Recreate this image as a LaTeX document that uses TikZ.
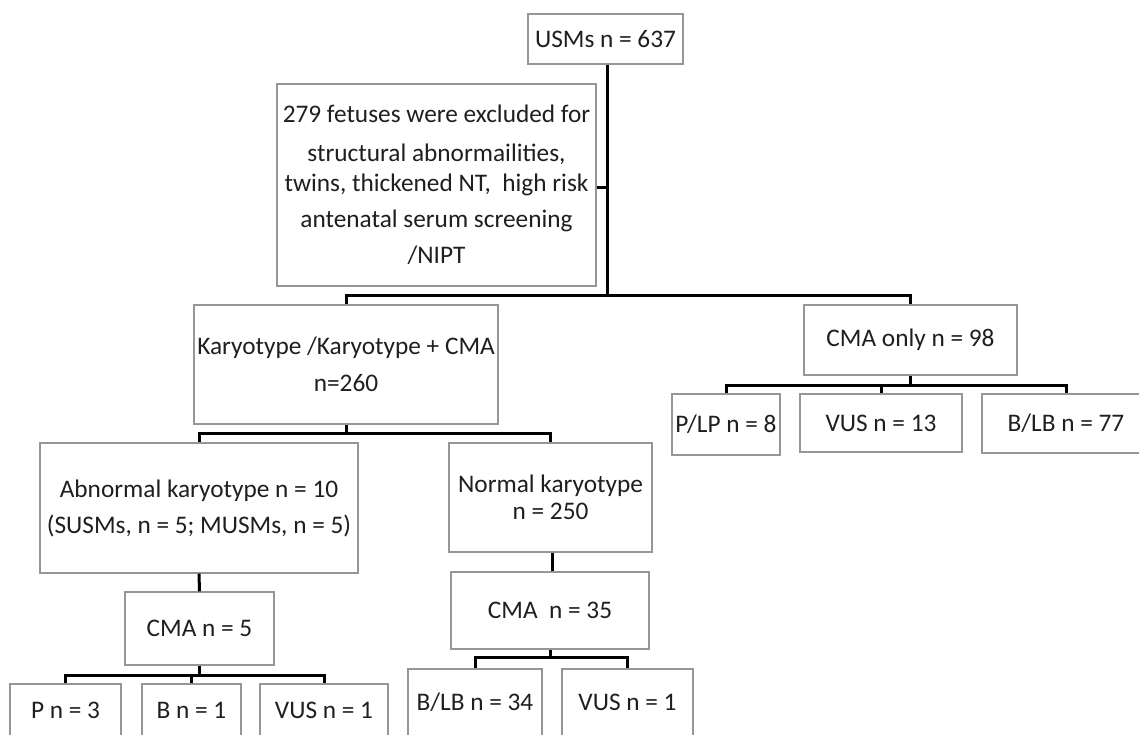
\documentclass[tikz,border=0pt]{standalone}
\usepackage{fontspec}
\setmainfont{Carlito}
\definecolor{boxgray}{RGB}{150,150,150}
\begin{document}
\begin{tikzpicture}[x=1pt,y=-1pt,
  box/.style={draw=boxgray, line width=1.1pt, rectangle, inner sep=0pt, align=center,
    font=\fontsize{25.3}{36}\selectfont, text=black!88},
  conn/.style={line width=3pt, black}]
\fill[white] (0,0) rectangle (1139,734);
\useasboundingbox (0,0) rectangle (1139,734);
\clip (0,0) rectangle (1139,734);

% nodes
\node[box, minimum width=155, minimum height=50] (usm) at (605.5,39) {USMs n = 637};
\node[box, minimum width=319, minimum height=202] (excl) at (436.5,185)
  {279 fetuses were excluded for\\[3pt] structural abnormailities,\\[-6pt] twins, thickened NT,~ high risk\\ antenatal serum screening\\ /NIPT};
\node[box, minimum width=304, minimum height=119] (kar) at (346,364.5)
  {Karyotype /Karyotype + CMA\\[1pt] n=260};
\node[box, minimum width=213, minimum height=70] (cmaonly) at (910.5,340) {CMA only n = 98};
\node[box, minimum width=108, minimum height=61] (plp) at (726,424.5) {P/LP n = 8};
\node[box, minimum width=162, minimum height=58] (vus13) at (881,423) {VUS n = 13};
\node[box, minimum width=168, minimum height=59] (blb77) at (1066,423.5) {B/LB n = 77};
\node[box, minimum width=318, minimum height=130] (abn) at (199,508)
  {Abnormal karyotype n = 10\\ (SUSMs, n = 5; MUSMs, n = 5)};
\node[box, minimum width=203, minimum height=109] (norm) at (550.5,497.5)
  {Normal karyotype\\[-9pt] n = 250};
\node[box, minimum width=149, minimum height=73] (cma5) at (199.5,628.5) {CMA n = 5};
\node[box, minimum width=198, minimum height=77] (cma35) at (550,610.5) {CMA~ n = 35};
\node[box, minimum width=111, minimum height=52] (p3) at (65.5,710) {P n = 3};
\node[box, minimum width=99, minimum height=52] (b1) at (191.5,710) {B n = 1};
\node[box, minimum width=128, minimum height=52] (vus1) at (324,710) {VUS n = 1};
\node[box, minimum width=134, minimum height=67] (blb34) at (475,702.5) {B/LB n = 34};
\node[box, minimum width=131, minimum height=67] (vus1b) at (627.5,702.5) {VUS n = 1};

% bar levels
\coordinate (bA) at (0,295);
\coordinate (bB) at (0,433);
\coordinate (bC) at (0,385);
\coordinate (bD) at (0,675);
\coordinate (bE) at (0,657);

% connectors
\draw[conn] ([xshift=1.5pt]usm.south) -- ([xshift=1.5pt]usm.south |- bA);
\draw[conn] ([yshift=-2pt]excl.east) -- ([yshift=-2pt,xshift=1.5pt]excl.east -| usm.south);
\draw[conn] (kar.north) -- (kar.north |- bA) -- (cmaonly.north |- bA) -- (cmaonly.north);

\draw[conn] (kar.south) -- (kar.south |- bB);
\draw[conn] (abn.north) -- (abn.north |- bB) -- (norm.north |- bB) -- (norm.north);

\draw[conn] (cmaonly.south) -- (cmaonly.south |- bC);
\draw[conn] (plp.north) -- (plp.north |- bC) -- (blb77.north |- bC) -- (blb77.north);
\draw[conn] (vus13.north) -- (vus13.north |- bC);

\draw[conn] (abn.south) -- (cma5.north);
\draw[conn] (cma5.south) -- (cma5.south |- bD);
\draw[conn] (p3.north) -- (p3.north |- bD) -- (vus1.north |- bD) -- (vus1.north);
\draw[conn] (b1.north) -- (b1.north |- bD);

\draw[conn] ([xshift=1.5pt]norm.south) -- ([xshift=1.5pt]norm.south |- cma35.north);
\draw[conn] (cma35.south) -- (cma35.south |- bE);
\draw[conn] (blb34.north) -- (blb34.north |- bE) -- (vus1b.north |- bE) -- (vus1b.north);
\end{tikzpicture}
\end{document}
